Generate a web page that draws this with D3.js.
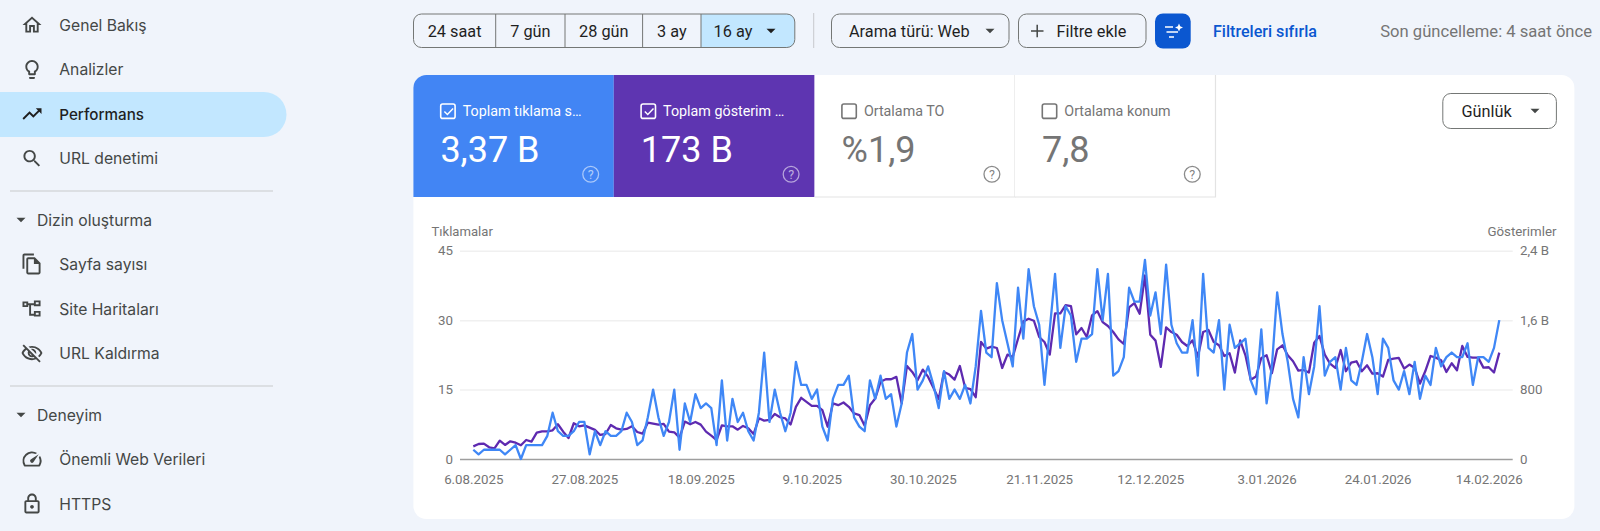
<!DOCTYPE html>
<html lang="tr">
<head>
<meta charset="utf-8">
<title>Performans</title>
<script src="https://cdnjs.cloudflare.com/ajax/libs/d3/7.8.5/d3.min.js"></script>
<style>
html, body { margin: 0; padding: 0; background: #f0f4fb; overflow: hidden; }
svg { display: block; font-family: Roboto, sans-serif; }
.side { font-family: Inter, Roboto, sans-serif; font-size: 15.7px; fill: #444746; }
.eje text { font-family: Roboto, sans-serif; font-size: 13.3px; fill: #757575; }
.eje .domain { display: none; }
.eje line { stroke: #f0f0f0; stroke-width: 1.5; }
</style>
</head>
<body>
<div id="graf"></div>
<script>
// Datos
tickFechas = ['2025-08-06','2025-08-27','2025-09-18','2025-10-09','2025-10-30','2025-11-21','2025-12-12','2026-01-03','2026-01-24','2026-02-14']
tickFechasTexto = ['6.08.2025','27.08.2025','18.09.2025','9.10.2025','30.10.2025','21.11.2025','12.12.2025','3.01.2026','24.01.2026','14.02.2026']
ticksClics = [0, 15, 30, 45]
ticksGoster = [0, 800, 1600, 2400]
ticksGosterTexto = ['0', '800', '1,6 B', '2,4 B']

tiklamalar = [
  2,1,2,2,2,2,1,2,3,0,3,3,3,3,5,10,6,5,5,6,8,8,1,6,3,6,5,5,6,10,
  8,3,4,9,15,9,5,8,15,2,12,8,14,11,12,11,3,17,4,13,8,10,6,4,10,23,8,15,10,6,
  10,21,16,16,13,15,7,4,13,16,16,18,9,7,6,17,13,18,13,14,7,12,23,27,15,17,20,16,11,19,
  13,15,13,16,12,20,32,23,22,38,30,25,20,37,26,41,33,29,16,28,40,24,33,31,21,26,26,27,41,30,
  40,18,19,22,37,34,34,43,31,36,27,42,29,25,23,23,30,18,40,24,23,30,15,29,24,25,26,17,14,28,
  12,20,36,27,21,13,9,22,14,20,33,18,21,22,15,24,17,16,21,27,22,14,26,24,17,15,19,14,21,13,
  18,16,24,20,22,23,22,22,25,16,22,22,21,24,30
]

gosterimler = [
  146,173,177,135,123,212,162,204,188,158,219,200,304,319,319,331,400,315,242,412,377,388,361,335,277,288,392,354,338,346,
  377,311,292,419,408,396,404,315,308,246,431,400,427,396,315,269,219,388,377,377,338,381,354,288,469,442,450,519,481,467,
  398,601,705,659,613,613,563,372,640,620,651,601,525,506,383,620,697,889,919,919,946,640,1072,1003,908,1030,946,820,689,1003,
  973,915,1072,820,804,712,1348,1272,1295,1279,1049,1203,1176,1386,1586,1616,1593,1406,1348,1203,1678,1678,1773,1762,1436,1509,1406,1655,1704,1578,
  1532,1463,1379,1325,1746,1796,1674,2114,1432,1364,1061,1517,1463,1432,1348,1302,1367,1176,1463,1486,1348,1310,1187,1218,996,1367,1195,912,950,1164,
  1195,988,1264,1310,1195,1126,1019,1026,996,1340,1417,1203,1099,1049,1256,1011,1111,1126,1011,1080,984,988,950,1141,1157,1164,1042,1088,1049,869,
  1011,1187,1168,1138,1003,1103,1023,1302,1176,1168,1168,1053,1057,996,1226
]

menu = ['Genel Bakış','Analizler','Performans','URL denetimi','Dizin oluşturma','Sayfa sayısı','Site Haritaları','URL Kaldırma','Deneyim','Önemli Web Verileri','HTTPS']
rangos = ['24 saat','7 gün','28 gün','3 ay','16 ay']
metricas = ['Toplam tıklama s…','Toplam gösterim …','Ortalama TO','Ortalama konum']
metricasValor = ['3,37 B','173 B','%1,9','7,8']

iconos = {
  home: 'M12 5.69l5 4.5V18h-2v-6H9v6H7v-7.81l5-4.5M12 3L2 12h3v8h6v-6h2v6h6v-8h3L12 3z',
  idea: 'M9 21c0 .55.45 1 1 1h4c.55 0 1-.45 1-1v-1H9v1zm3-19C8.14 2 5 5.14 5 9c0 2.38 1.19 4.47 3 5.74V17c0 .55.45 1 1 1h6c.55 0 1-.45 1-1v-2.26c1.81-1.27 3-3.36 3-5.74 0-3.86-3.14-7-7-7zm2.85 11.1l-.85.6V16h-4v-2.3l-.85-.6C7.8 12.16 7 10.63 7 9c0-2.76 2.24-5 5-5s5 2.24 5 5c0 1.63-.8 3.16-2.15 4.1z',
  trend: 'M16 6l2.29 2.29-4.88 4.88-4-4L2 16.59 3.41 18l6-6 4 4 6.3-6.29L22 12V6z',
  search: 'M15.5 14h-.79l-.28-.27C15.41 12.59 16 11.11 16 9.5 16 5.91 13.09 3 9.5 3S3 5.91 3 9.5 5.91 16 9.5 16c1.61 0 3.09-.59 4.23-1.57l.27.28v.79l5 4.99L20.49 19l-4.99-5zm-6 0C7.01 14 5 11.99 5 9.5S7.01 5 9.5 5 14 7.01 14 9.5 11.99 14 9.5 14z',
  pages: 'M14 1H4c-1.1 0-2 .9-2 2v14h2V3h10V1zm1 4l6 6v10c0 1.1-.9 2-2 2H8c-1.1 0-2-.9-2-2V7c0-1.1.9-2 2-2h7zm-1 2H8v14h11v-9h-5V7z',
  mapa: 'M2 4h6v6H2V4zm2 2v2h2V6H4zM14 3h7v6h-7V3zm2 2v2h3V5h-3zM14 14h7v6h-7v-6zm2 2v2h3v-2h-3zM8 6h6v2h-3v9h3v2H9V8H8V6z',
  ojo: 'M12 6c3.79 0 7.17 2.13 8.82 5.5-.59 1.22-1.42 2.27-2.41 3.12l1.41 1.41c1.39-1.23 2.49-2.77 3.18-4.53C21.27 7.11 17 4 12 4c-1.27 0-2.49.2-3.64.57l1.65 1.65C10.66 6.09 11.32 6 12 6zm-1.07 1.14L13 9.21c.57.25 1.03.71 1.28 1.28l2.07 2.07c.08-.34.14-.7.14-1.07C16.5 9.01 14.48 7 12 7c-.37 0-.72.05-1.07.14zM2.01 3.87l2.68 2.68C3.06 7.83 1.77 9.53 1 11.5 2.73 15.89 7 19 12 19c1.52 0 2.98-.29 4.32-.82l3.42 3.42 1.41-1.41L3.42 2.45 2.01 3.87zm7.5 7.5l2.61 2.61c-.04.01-.08.02-.12.02-1.38 0-2.5-1.12-2.5-2.5 0-.05.01-.08.01-.13zm-3.4-3.4l1.75 1.75c-.23.55-.36 1.15-.36 1.78 0 2.48 2.02 4.5 4.5 4.5.63 0 1.23-.13 1.77-.36l.98.98c-.88.24-1.8.38-2.75.38-3.79 0-7.17-2.13-8.82-5.5.7-1.43 1.72-2.61 2.93-3.53z',
  speed: 'M20.38 8.57l-1.23 1.85a8 8 0 0 1-.22 7.58H5.07A8 8 0 0 1 15.58 6.85l1.85-1.23A10 10 0 0 0 3.35 19a2 2 0 0 0 1.72 1h13.85a2 2 0 0 0 1.74-1 10 10 0 0 0-.27-10.44zm-9.79 6.84a2 2 0 0 0 2.83 0l5.66-8.49-8.49 5.66a2 2 0 0 0 0 2.83z',
  lock: 'M18 8h-1V6c0-2.76-2.24-5-5-5S7 3.24 7 6v2H6c-1.1 0-2 .9-2 2v10c0 1.1.9 2 2 2h12c1.1 0 2-.9 2-2V10c0-1.1-.9-2-2-2zM9 6c0-1.66 1.34-3 3-3s3 1.34 3 3v2H9V6zm9 14H6V10h12v10zm-6-3c1.1 0 2-.9 2-2s-.9-2-2-2-2 .9-2 2 .9 2 2 2z'
}

svg = d3.select('#graf').append('svg')
        .attr('width', 1600)
        .attr('height', 531)

function texto(padre, x, y, s, size, color, anchor) {
    return padre.append('text')
        .attr('x', x)
        .attr('y', y)
        .attr('font-size', size)
        .attr('fill', color)
        .attr('text-anchor', anchor || 'start')
        .attr('dominant-baseline', 'central')
        .text(s)
}

function icono(padre, d, cx, cy, escala, color) {
    padre.append('path')
        .attr('d', d)
        .attr('fill', color)
        .attr('transform', `translate(${cx - 12 * escala},${cy - 12 * escala}) scale(${escala})`)
}

function flechita(padre, cx, cy, color) {
    padre.append('path')
        .attr('d', `M${cx - 4.5},${cy - 2.2}L${cx + 4.5},${cy - 2.2}L${cx},${cy + 2.3}Z`)
        .attr('fill', color)
}

//Menu lateral
side = svg.append('g')
side.append('path')
    .attr('d', 'M0,92H264a22.5,22.5 0 0 1 0,45H0Z')
    .attr('fill', '#c2e7ff')

filaY = [25, 69.5, 114, 158.5, 220, 264, 309, 353.5, 415, 459, 504]
filaIcono = ['home','idea','trend','search',null,'pages','mapa','ojo',null,'speed','lock']
menu.forEach((d, i) => {
    esGrupo = filaIcono[i] == null
    side.append('text')
        .attr('class', 'side')
        .attr('x', esGrupo ? 37 : 59.3)
        .attr('y', filaY[i])
        .attr('dominant-baseline', 'central')
        .style('fill', i == 2 ? '#1f1f1f' : null)
        .style('font-weight', i == 2 ? 500 : 400)
        .style('font-size', i == 2 ? '15.2px' : null)
        .text(d)
    if (esGrupo) flechita(side, 21, filaY[i], '#444746')
    else icono(side, iconos[filaIcono[i]], 32, filaY[i], 0.95, i == 2 ? '#1f1f1f' : '#444746')
})
;[191, 386].forEach(y => {
    side.append('line')
        .attr('x1', 10).attr('x2', 273)
        .attr('y1', y).attr('y2', y)
        .attr('stroke', '#c7c9cc')
        .attr('stroke-width', 1.2)
})

//Barra superior
top_ = svg.append('g')
cortes = [413.5, 495.7, 565, 642.6, 701, 795.3]
top_.append('path')
    .attr('d', 'M701,14H786.8a8,8 0 0 1 8,8V39.5a8,8 0 0 1 -8,8H701Z')
    .attr('fill', '#c2e7ff')
top_.append('rect')
    .attr('x', 413.5).attr('y', 14)
    .attr('width', 381.3).attr('height', 33.5)
    .attr('rx', 8)
    .attr('fill', 'none')
    .attr('stroke', '#747775')
rangos.forEach((d, i) => {
    if (i > 0) {
        top_.append('line')
            .attr('x1', cortes[i]).attr('x2', cortes[i])
            .attr('y1', 14).attr('y2', 47.5)
            .attr('stroke', '#747775')
    }
    xm = i == 4 ? 733 : (cortes[i] + cortes[i + 1]) / 2
    texto(top_, xm, 31, d, 16.3, '#1f1f1f', 'middle')
})
flechita(top_, 771, 31, '#1f1f1f')

top_.append('rect')
    .attr('x', 813.2).attr('y', 13)
    .attr('width', 1).attr('height', 35)
    .attr('fill', '#c7c9cc')

function boton(x, ancho, y, alto) {
    top_.append('rect')
        .attr('x', x).attr('y', y)
        .attr('width', ancho).attr('height', alto)
        .attr('rx', 8)
        .attr('fill', 'none')
        .attr('stroke', '#747775')
}
boton(831.5, 177.5, 14, 33.5)
texto(top_, 849, 31, 'Arama türü: Web', 16.3, '#1f1f1f')
flechita(top_, 990, 31, '#444746')
boton(1018.5, 127.5, 14, 33.5)
top_.append('path')
    .attr('d', 'M1031,31H1043.5M1037.2,24.7V37.3')
    .attr('stroke', '#444746')
    .attr('stroke-width', 1.5)
    .attr('fill', 'none')
texto(top_, 1056.5, 31, 'Filtre ekle', 16.3, '#1f1f1f')

top_.append('rect')
    .attr('x', 1155).attr('y', 13.5)
    .attr('width', 35.7).attr('height', 35)
    .attr('rx', 8)
    .attr('fill', '#0b57d0')
top_.append('path')
    .attr('d', 'M1165,27H1173M1166.5,32H1178M1169,37H1174')
    .attr('stroke', '#fff')
    .attr('stroke-width', 1.6)
top_.append('path')
    .attr('d', 'M1179,23.5L1180.2,26.3L1183,27.5L1180.2,28.7L1179,31.5L1177.8,28.7L1175,27.5L1177.8,26.3Z')
    .attr('fill', '#fff')

texto(top_, 1213, 31, 'Filtreleri sıfırla', 16.1, '#0b57d0').attr('font-weight', 500)
texto(top_, 1592, 31, 'Son güncelleme: 4 saat önce', 16.6, '#757575', 'end')

//Tarjeta blanca
svg.append('rect')
    .attr('x', 413.4).attr('y', 75)
    .attr('width', 1161).attr('height', 444)
    .attr('rx', 13)
    .attr('fill', '#fff')

mX = [413.4, 613.8, 814.6, 1015, 1215.5]
mColor = ['#4285f4', '#5e35b1', '#fff', '#fff']
metricas.forEach((d, i) => {
    m = svg.append('g')
    activo = i < 2
    tinta = activo ? '#fff' : '#757575'
    if (i == 0) {
        m.append('path')
            .attr('d', `M${mX[0]},197V88a13,13 0 0 1 13,-13H${mX[1]}V197Z`)
            .attr('fill', mColor[i])
    } else {
        m.append('rect')
            .attr('x', mX[i]).attr('y', 75)
            .attr('width', mX[i + 1] - mX[i]).attr('height', 122)
            .attr('fill', mColor[i])
    }
    if (!activo) {
        m.append('path')
            .attr('d', `M${mX[i + 1]},75V197H${mX[i]}`)
            .attr('fill', 'none')
            .attr('stroke', '#e3e3e3')
            .attr('stroke-width', 1.2)
    }
    m.append('rect')
        .attr('x', mX[i] + 27.3).attr('y', 104)
        .attr('width', 14.4).attr('height', 14.4)
        .attr('rx', 2)
        .attr('fill', 'none')
        .attr('stroke', tinta)
        .attr('stroke-width', 1.6)
    if (activo) {
        m.append('path')
            .attr('d', `M${mX[i] + 31},111.5l3,3l5.7,-6`)
            .attr('fill', 'none')
            .attr('stroke', '#fff')
            .attr('stroke-width', 1.4)
    }
    texto(m, mX[i] + 49.3, 111, d, 14.3, tinta)
    m.append('text')
        .attr('x', mX[i] + 27)
        .attr('y', 162)
        .attr('font-size', 36)
        .attr('fill', tinta)
        .text(metricasValor[i])
    m.append('circle')
        .attr('cx', mX[i] + 177.3).attr('cy', 174.3)
        .attr('r', 7.9)
        .attr('fill', 'none')
        .attr('stroke', tinta)
        .attr('stroke-opacity', activo ? 0.55 : 0.85)
        .attr('stroke-width', 1.3)
    texto(m, mX[i] + 177.3, 174.6, '?', 12.5, tinta, 'middle').attr('fill-opacity', activo ? 0.6 : 0.9)
})

boton(1442.8, 113.6, 93.5, 35)
top_.raise()
texto(top_, 1461.5, 111, 'Günlük', 16.3, '#1f1f1f')
flechita(top_, 1535, 111, '#444746')

//Escaladores
dias = d3.utcDay.range(new Date(Date.UTC(2025, 7, 6)), new Date(Date.UTC(2026, 1, 17)))
x = d3.scaleUtc().domain([dias[0], dias[dias.length - 1]]).range([473.3, 1499.3])
yClics = d3.scaleLinear().domain([0, 45]).range([459, 250.7])
yGoster = d3.scaleLinear().domain([0, 2400]).range([459, 250.7])

//Ejes
ejeIzq = d3.axisLeft(yClics)
    .tickValues(ticksClics)
    .tickSize(0)
    .tickPadding(7)
gIzq = svg.append('g')
    .attr('class', 'eje')
    .attr('transform', 'translate(460,0)')
    .call(ejeIzq)

ejeDer = d3.axisRight(yGoster)
    .tickValues(ticksGoster)
    .tickFormat((d, i) => ticksGosterTexto[i])
    .tickSize(-1052.7)
    .tickPadding(7.3)
gDer = svg.append('g')
    .attr('class', 'eje')
    .attr('transform', 'translate(1512.7,0)')
    .call(ejeDer)
gDer.selectAll('line')
    .filter(d => d == 0)
    .style('stroke', '#9e9e9e')

fechaParse = d3.utcParse('%Y-%m-%d')
ejeX = d3.axisBottom(x)
    .tickValues(tickFechas.map(fechaParse))
    .tickFormat((d, i) => tickFechasTexto[i])
    .tickSize(0)
    .tickPadding(0)
svg.append('g')
    .attr('class', 'eje')
    .attr('transform', 'translate(0,475)')
    .call(ejeX)

texto(svg, 431.5, 231.5, 'Tıklamalar', 13.1, '#757575')
texto(svg, 1556.5, 231.5, 'Gösterimler', 13.3, '#757575', 'end')

//Lineas
lineaGoster = d3.line()
    .x((d, i) => x(dias[i]))
    .y(d => yGoster(d))
lineaClics = d3.line()
    .x((d, i) => x(dias[i]))
    .y(d => yClics(d))

svg.append('path')
    .datum(gosterimler)
    .attr('d', lineaGoster)
    .attr('fill', 'none')
    .attr('stroke', '#5e2ab0')
    .attr('stroke-width', 2.3)
    .attr('stroke-linejoin', 'round')

svg.append('path')
    .datum(tiklamalar)
    .attr('d', lineaClics)
    .attr('fill', 'none')
    .attr('stroke', '#3f87f6')
    .attr('stroke-width', 2.3)
    .attr('stroke-linejoin', 'round')
</script>
</body>
</html>
